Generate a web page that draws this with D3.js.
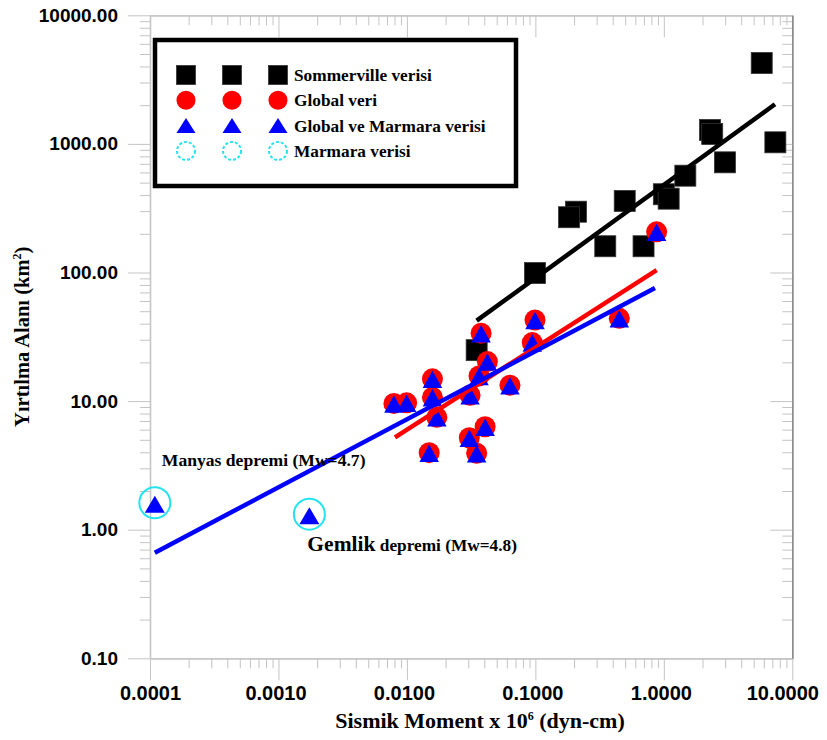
<!DOCTYPE html>
<html>
<head>
  <meta charset="UTF-8">
  <title></title>
  <style>
    body{ margin:0; background:#fff; }
    .tick text{ font-family: 'Liberation Sans', Arial, sans-serif; font-weight:bold; fill:#000; }
    .serif{ font-family: 'Liberation Serif', 'Times New Roman', serif; font-weight:bold; fill:#000; }
  </style>
</head>
<body>
<script src="https://cdnjs.cloudflare.com/ajax/libs/d3/7.8.5/d3.min.js"></script>
<script>
/// data

// Sommerville verisi
var sommX = [5.78, 2.29, 2.38, 7.38, 2.99, 1.47, 1.00, 1.09, 0.496, 0.207, 0.183, 0.35, 0.695, 0.0993, 0.0349];
var sommY = [4256, 1283, 1194, 1029, 719, 566, 406, 375, 360, 297, 269, 160, 160, 99, 24.9];

// Global veri (every one also plotted as a Global ve Marmara triangle)
var globX = [0.0993, 0.0946, 0.0378, 0.0423, 0.0364, 0.0634, 0.0158, 0.0158, 0.00792, 0.00995,
             0.031, 0.0171, 0.0406, 0.0306, 0.0349, 0.0149, 0.45, 0.879];
var globY = [42.7, 28.5, 33.7, 20.3, 15.7, 13.3, 14.9, 10.7, 9.6, 9.7,
             11.1, 7.48, 6.32, 5.19, 3.93, 3.97, 44, 207];

// Marmara verisi
var marmNames = ["Manyas", "Gemlik"];
var marmX = [0.000109, 0.00174];
var marmY = [1.62, 1.32];

// fit lines: [start, end]
var sommFitX = [0.0349, 7.33],  sommFitY = [42.2, 2032];
var globFitX = [0.00807, 0.879], globFitY = [5.23, 104.5];
var gmFitX   = [0.000109, 0.853], gmFitY  = [0.662, 75.8];

var xTickLabels = ["0.0001", "0.0010", "0.0100", "0.1000", "1.0000", "10.0000"];
var yTickLabels = ["0.10", "1.00", "10.00", "100.00", "1000.00", "10000.00"];
var legendLabels = ["Sommerville verisi", "Global veri", "Global ve Marmara verisi", "Marmara verisi"];

/// main

var width = 827, height = 740;
var pLeft = 150, pRight = 792.3, pTop = 15.3, pBottom = 658.3;
var axisColor = "#c4c4c4";
var cyan = "#22e4ee";

var svg = d3.select("body").append("svg")
    .attr("width", width)
    .attr("height", height);

var x = d3.scaleLog().domain([1e-4, 10]).range([pLeft, pRight]);
var y = d3.scaleLog().domain([0.1, 10000]).range([pBottom, pTop]);

var xAll = x.ticks(), yAll = y.ticks();
var isMajor = function(d) { return Math.abs(Math.log10(d) - Math.round(Math.log10(d))) < 1e-9; };
var xMajor = xAll.filter(isMajor), xMinor = xAll.filter(function(d){ return !isMajor(d); });
var yMajor = yAll.filter(isMajor), yMinor = yAll.filter(function(d){ return !isMajor(d); });

function styleAxis(g, color) {
  g.select(".domain").attr("stroke", color).attr("stroke-width", 1.3);
  g.selectAll(".tick line").attr("stroke", axisColor);
}

// bottom
svg.append("g").attr("transform", "translate(0," + pBottom + ")")
  .call(d3.axisBottom(x).tickValues(xMinor).tickSize(10).tickSizeOuter(0).tickFormat(""))
  .call(styleAxis, axisColor);
svg.append("g").attr("transform", "translate(0," + pBottom + ")")
  .call(d3.axisBottom(x).tickValues(xMajor).tickSize(22).tickSizeOuter(0).tickPadding(6)
        .tickFormat(function(d, i){ return xTickLabels[i]; }))
  .call(styleAxis, axisColor)
  .selectAll("text")
    .attr("font-size", 20)
    .attr("dx", function(d, i){ return i === xMajor.length - 1 ? -10 : (i > 0 ? -3 : 0); });

// top
svg.append("g").attr("transform", "translate(0," + pTop + ")")
  .call(d3.axisTop(x).tickValues(xMinor).tickSize(-10).tickSizeOuter(0).tickFormat(""))
  .call(styleAxis, axisColor);
svg.append("g").attr("transform", "translate(0," + pTop + ")")
  .call(d3.axisTop(x).tickValues(xMajor).tickSize(-22).tickSizeOuter(0).tickFormat(""))
  .call(styleAxis, axisColor);

// left
svg.append("g").attr("transform", "translate(" + pLeft + ",0)")
  .call(d3.axisLeft(y).tickValues(yMinor).tickSize(10).tickSizeOuter(0).tickFormat(""))
  .call(styleAxis, axisColor);
svg.append("g").attr("transform", "translate(" + pLeft + ",0)")
  .call(d3.axisLeft(y).tickValues(yMajor).tickSize(22).tickSizeOuter(0).tickPadding(10)
        .tickFormat(function(d, i){ return yTickLabels[i]; }))
  .call(styleAxis, axisColor)
  .selectAll("text").attr("font-size", 19);

// right
svg.append("g").attr("transform", "translate(" + pRight + ",0)")
  .call(d3.axisRight(y).tickValues(yMinor).tickSize(-10).tickSizeOuter(0).tickFormat(""))
  .call(styleAxis, "#8a8a8a");
svg.append("g").attr("transform", "translate(" + pRight + ",0)")
  .call(d3.axisRight(y).tickValues(yMajor).tickSize(-22).tickSizeOuter(0).tickFormat(""))
  .call(styleAxis, "#8a8a8a");

// axis titles
var yt = svg.append("text").attr("class", "serif")
    .attr("transform", "translate(29," + ((pTop + pBottom) / 2) + ") rotate(-90)")
    .attr("text-anchor", "middle")
    .attr("font-size", 20.5);
yt.append("tspan").text("Yırtılma Alanı (km");
yt.append("tspan").attr("font-size", 12).attr("dy", -8).text("2");
yt.append("tspan").attr("dy", 8).text(")");

var xt = svg.append("text").attr("class", "serif")
    .attr("x", 480).attr("y", 728)
    .attr("text-anchor", "middle")
    .attr("font-size", 22);
xt.append("tspan").text("Sismik Moment x 10");
xt.append("tspan").attr("font-size", 12).attr("dy", -8).text("6");
xt.append("tspan").attr("dy", 8).text(" (dyn-cm)");

// marker helpers
function square(g, cx, cy, s) {
  g.append("rect").attr("x", cx - s / 2).attr("y", cy - s / 2)
    .attr("width", s).attr("height", s)
    .attr("fill", "#000").attr("stroke", "#333").attr("stroke-width", 0.8);
}
function dot(g, cx, cy, r) {
  g.append("circle").attr("cx", cx).attr("cy", cy).attr("r", r).attr("fill", "#ff0000");
}
function tri(g, cx, cy, w, h) {
  g.append("path")
    .attr("d", "M" + cx + "," + (cy - h / 2) + "L" + (cx + w / 2) + "," + (cy + h / 2) + "L" + (cx - w / 2) + "," + (cy + h / 2) + "Z")
    .attr("fill", "#0000ff");
}
function ring(g, cx, cy, r, dash) {
  g.append("circle").attr("cx", cx).attr("cy", cy).attr("r", r)
    .attr("fill", "none").attr("stroke", cyan).attr("stroke-width", 2)
    .attr("stroke-dasharray", dash ? "3,2" : null);
}

// points
var pts = svg.append("g");
sommX.forEach(function(d, i){ square(pts, x(d), y(sommY[i]), 21); });
marmX.forEach(function(d, i){ ring(pts, x(d), y(marmY[i]), 15.5, false); });
globX.forEach(function(d, i){ dot(pts, x(d), y(globY[i]), 10.5); });
globX.forEach(function(d, i){ tri(pts, x(d), y(globY[i]) + 0.5, 19.5, 17.5); });
marmX.forEach(function(d, i){ tri(pts, x(d), y(marmY[i]) + 1.5, 20, 17); });

// fit lines
var line = d3.line().x(function(d){ return x(d[0]); }).y(function(d){ return y(d[1]); });
[[sommFitX, sommFitY, "#000"], [globFitX, globFitY, "#ff0000"], [gmFitX, gmFitY, "#0000ff"]]
  .forEach(function(f){
    svg.append("path")
      .datum(d3.zip(f[0], f[1]))
      .attr("d", line)
      .attr("fill", "none")
      .attr("stroke", f[2])
      .attr("stroke-width", 4.5);
  });

// annotations
svg.append("text").attr("class", "serif")
  .attr("x", x(marmX[0]) + 7).attr("y", y(marmY[0]) - 37)
  .attr("font-size", 17.6)
  .text(marmNames[0] + " depremi (Mw=4.7)");
var gt = svg.append("text").attr("class", "serif")
  .attr("x", x(marmX[1]) - 2).attr("y", y(marmY[1]) + 37);
gt.append("tspan").attr("font-size", 21.5).text(marmNames[1]);
gt.append("tspan").attr("font-size", 17.3).text(" depremi (Mw=4.8)");

// legend
var lg = svg.append("g");
lg.append("rect").attr("x", 155).attr("y", 40).attr("width", 361).attr("height", 146)
  .attr("fill", "#fff").attr("stroke", "#000").attr("stroke-width", 4.5);
var cols = [186, 232, 278];
legendLabels.forEach(function(lab, i){
  var cy = 75 + i * 25.3;
  cols.forEach(function(cx){
    if (i === 0) square(lg, cx, cy, 19);
    if (i === 1) dot(lg, cx, cy, 9.5);
    if (i === 2) tri(lg, cx, cy, 19, 15);
    if (i === 3) ring(lg, cx, cy, 9, true);
  });
  lg.append("text").attr("class", "serif")
    .attr("x", 294).attr("y", cy).attr("dy", "0.35em")
    .attr("font-size", 17.3)
    .text(lab);
});
</script>
</body>
</html>
